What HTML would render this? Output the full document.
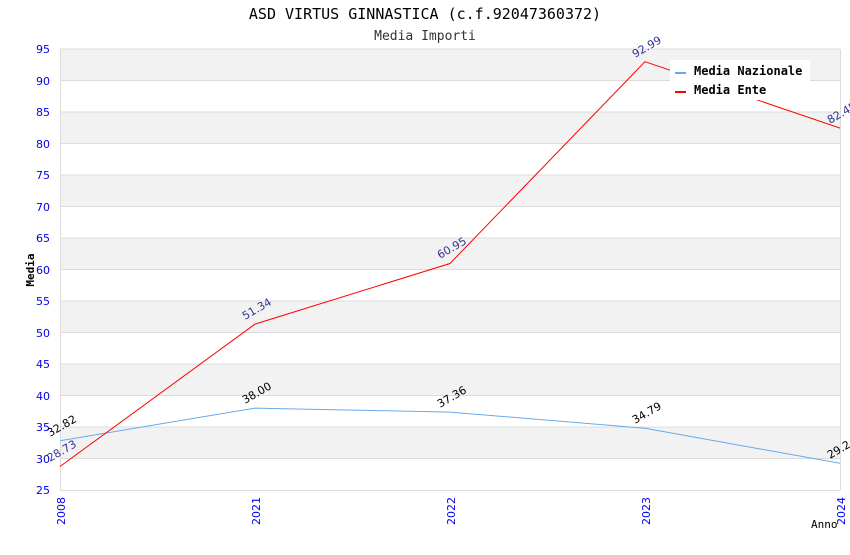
<!DOCTYPE html>
<html><head><style>body{margin:0;background:#fff}</style></head><body>
<svg width="850" height="550" xmlns="http://www.w3.org/2000/svg">
<rect width="850" height="550" fill="#fff"/>
<g fill="#f2f2f2">
<rect x="60" y="49" width="780" height="31.5"/>
<rect x="60" y="112" width="780" height="31.5"/>
<rect x="60" y="175" width="780" height="31.5"/>
<rect x="60" y="238" width="780" height="31.5"/>
<rect x="60" y="301" width="780" height="31.5"/>
<rect x="60" y="364" width="780" height="31.5"/>
<rect x="60" y="427" width="780" height="31.5"/>
</g>
<g stroke="#dcdcdc" stroke-width="1">
<line x1="60" y1="49" x2="840" y2="49"/><line x1="60" y1="80.5" x2="840" y2="80.5"/><line x1="60" y1="112" x2="840" y2="112"/><line x1="60" y1="143.5" x2="840" y2="143.5"/><line x1="60" y1="175" x2="840" y2="175"/><line x1="60" y1="206.5" x2="840" y2="206.5"/><line x1="60" y1="238" x2="840" y2="238"/><line x1="60" y1="269.5" x2="840" y2="269.5"/><line x1="60" y1="301" x2="840" y2="301"/><line x1="60" y1="332.5" x2="840" y2="332.5"/><line x1="60" y1="364" x2="840" y2="364"/><line x1="60" y1="395.5" x2="840" y2="395.5"/><line x1="60" y1="427" x2="840" y2="427"/><line x1="60" y1="458.5" x2="840" y2="458.5"/>
<line x1="60.5" y1="49" x2="60.5" y2="490"/><line x1="840.5" y1="49" x2="840.5" y2="490"/><line x1="60" y1="490.5" x2="840" y2="490.5"/>
</g>
<g font-family="DejaVu Sans, sans-serif" font-size="11" fill="#0000ee" text-anchor="end">
<text x="50" y="53">95</text><text x="50" y="85">90</text><text x="50" y="116">85</text><text x="50" y="148">80</text><text x="50" y="179">75</text><text x="50" y="211">70</text><text x="50" y="242">65</text><text x="50" y="274">60</text><text x="50" y="305">55</text><text x="50" y="337">50</text><text x="50" y="368">45</text><text x="50" y="400">40</text><text x="50" y="431">35</text><text x="50" y="463">30</text><text x="50" y="494">25</text>
<text transform="translate(65,497) rotate(-90)">2008</text>
<text transform="translate(260,497) rotate(-90)">2021</text>
<text transform="translate(455,497) rotate(-90)">2022</text>
<text transform="translate(650,497) rotate(-90)">2023</text>
<text transform="translate(845,497) rotate(-90)">2024</text>
</g>
<g font-family="DejaVu Sans Mono, monospace" fill="#000">
<text x="425" y="19" font-size="15" text-anchor="middle">ASD VIRTUS GINNASTICA (c.f.92047360372)</text>
<text x="425" y="40" font-size="13" text-anchor="middle" fill="#333">Media Importi</text>
<text transform="translate(34,270) rotate(-90)" font-size="11" font-weight="bold" text-anchor="middle">Media</text>
<text x="811" y="528" font-size="11">Anno</text>
</g>
<polyline fill="none" stroke="#66aaee" stroke-width="1" points="60,440.7 255,408.1 450,412.1 645,428.3 840,463.3"/>
<polyline fill="none" stroke="#ff0000" stroke-width="1" points="60,466.5 255,324.1 450,263.5 645,61.7 840,128.1"/>
<g font-family="DejaVu Sans, sans-serif" font-size="11">
<g fill="#000">
<text transform="translate(50,437) rotate(-30)">32.82</text>
<text transform="translate(245,404) rotate(-30)">38.00</text>
<text transform="translate(440,408) rotate(-30)">37.36</text>
<text transform="translate(635,424) rotate(-30)">34.79</text>
<text transform="translate(830,459) rotate(-30)">29.24</text>
</g>
<g fill="#333399">
<text transform="translate(50,462) rotate(-30)">28.73</text>
<text transform="translate(245,320) rotate(-30)">51.34</text>
<text transform="translate(440,259) rotate(-30)">60.95</text>
<text transform="translate(635,58) rotate(-30)">92.99</text>
<text transform="translate(830,124) rotate(-30)">82.45</text>
</g>
</g>
<rect x="670" y="60" width="140" height="40" fill="#fff"/>
<rect x="675" y="72" width="11" height="2" fill="#66aaee"/>
<rect x="675" y="91" width="11" height="2" fill="#ff0000"/>
<g font-family="DejaVu Sans Mono, monospace" font-size="12" font-weight="bold" fill="#000">
<text x="694" y="75">Media Nazionale</text>
<text x="694" y="94">Media Ente</text>
</g>
</svg>
</body></html>
